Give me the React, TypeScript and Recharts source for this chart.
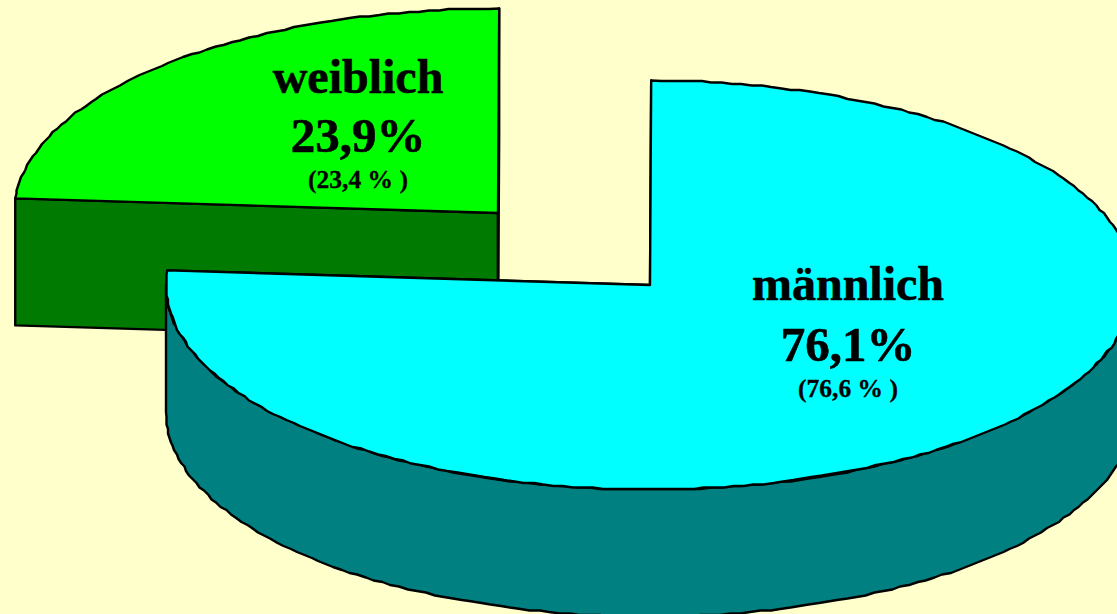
import React from "react";
import { PieChart, Pie } from "recharts";

const categories = ["weiblich", "männlich"];
const shares = [23.9, 76.1];
const shareLabels = ["23,9%", "76,1%"];
const previousLabels = ["(23,4 % )", "(76,6 % )"];

const data = categories.map((name, i) => ({
  name,
  value: shares[i],
  shareLabel: shareLabels[i],
  previousLabel: previousLabels[i],
}));

const WIDTH = 1117;
const HEIGHT = 614;
const CX = 650;
const CY = 285;
const RX = 484;
const SQUASH = 204.5 / 484;
const DEPTH = 127;
const START_ANGLE = 175.9;
const GRID = 1.5;

const TOP_COLORS = ["#00FF00", "#00FFFF"];
const SIDE_COLORS = ["#007A00", "#008080"];
const EXPLODE = [
  { dx: -152, dy: -72 },
  { dx: 0, dy: 0 },
];
const LABEL_OFFSET = [
  { x: -140, name: -120, share: -61, prev: -25 },
  { x: 198, name: 15, share: 76, prev: 112 },
];

const snap = (v: number) => Math.round(v / GRID) * GRID;

function arcPoints(cx: number, cy: number, r: number, from: number, to: number, dz = 0) {
  const steps = Math.max(1, Math.ceil(Math.abs(from - to) / 1.2));
  const pts: string[] = [];
  for (let i = 0; i <= steps; i++) {
    const a = ((from + ((to - from) * i) / steps) * Math.PI) / 180;
    const x = cx + r * Math.cos(a);
    const y = cy - r * SQUASH * Math.sin(a) + dz;
    const edge = i === 0 || i === steps;
    pts.push(`${edge ? x : snap(x)},${edge ? y : snap(y)}`);
  }
  return pts;
}

function Slice3D(props: any) {
  const { cx, cy, outerRadius: r, startAngle, endAngle, index } = props;
  const ox = cx + EXPLODE[index].dx;
  const oy = cy + EXPLODE[index].dy;
  const top = TOP_COLORS[index];
  const side = SIDE_COLORS[index];
  const common = { stroke: "#000", strokeWidth: 2.4, strokeLinejoin: "round" as const };

  const face = (angle: number) => {
    const a = (angle * Math.PI) / 180;
    const x = ox + r * Math.cos(a);
    const y = oy - r * SQUASH * Math.sin(a);
    return `${ox},${oy} ${x},${y} ${x},${y + DEPTH} ${ox},${oy + DEPTH}`;
  };

  const wallFrom = Math.min(startAngle, 0);
  const wallTo = Math.max(endAngle, -180);
  const hasWall = wallFrom > wallTo;
  const wall = hasWall
    ? [
        ...arcPoints(ox, oy, r, wallFrom, wallTo),
        ...arcPoints(ox, oy, r, wallTo, wallFrom, DEPTH),
      ].join(" ")
    : "";
  const surface = [`${ox},${oy}`, ...arcPoints(ox, oy, r, startAngle, endAngle)].join(" ");

  return (
    <g>
      <polygon points={face(startAngle)} fill={side} {...common} />
      <polygon points={face(endAngle)} fill={side} {...common} />
      {hasWall && <polygon points={wall} fill={side} {...common} />}
      <polygon points={surface} fill={top} {...common} />
    </g>
  );
}

function SliceLabel(props: any) {
  const { cx, cy, index, name, shareLabel, previousLabel, payload } = props;
  const o = LABEL_OFFSET[index];
  const ox = cx + EXPLODE[index].dx;
  const oy = cy + EXPLODE[index].dy;
  const base = {
    x: ox + o.x,
    textAnchor: "middle" as const,
    fontFamily: "'Liberation Serif', serif",
    fontWeight: 700,
    fill: "#000",
    stroke: "#000",
  };
  return (
    <g>
      <text {...base} y={oy + o.name} fontSize={48} strokeWidth={0.6}>
        {name ?? payload?.name}
      </text>
      <text {...base} y={oy + o.share} fontSize={49} strokeWidth={0.6}>
        {shareLabel ?? payload?.shareLabel}
      </text>
      <text {...base} y={oy + o.prev} fontSize={25.5} strokeWidth={0.3}>
        {previousLabel ?? payload?.previousLabel}
      </text>
    </g>
  );
}

export default function App() {
  return (
    <div
      style={{
        position: "absolute",
        left: 0,
        top: 0,
        width: WIDTH,
        height: HEIGHT,
        background: "#FFFFCC",
        overflow: "hidden",
      }}
    >
      <PieChart width={WIDTH} height={HEIGHT} margin={{ top: 0, right: 0, bottom: 0, left: 0 }}>
        <Pie
          data={data}
          dataKey="value"
          nameKey="name"
          cx={CX}
          cy={CY}
          innerRadius={0}
          outerRadius={RX}
          startAngle={START_ANGLE}
          endAngle={START_ANGLE - 360}
          paddingAngle={0}
          shape={Slice3D}
          label={SliceLabel}
          labelLine={false}
          isAnimationActive={false}
        />
      </PieChart>
    </div>
  );
}
